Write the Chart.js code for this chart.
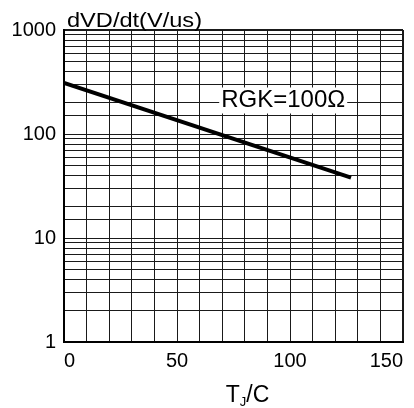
<!DOCTYPE html>
<html>
<head>
<meta charset="utf-8">
<script src="https://cdn.jsdelivr.net/npm/chart.js@4.4.0/dist/chart.umd.min.js"></script>
<style>
html, body { margin: 0; padding: 0; background: #fff; }
#wrap { width: 414px; height: 408px; }
</style>
</head>
<body>
<div id="wrap"><canvas id="dvdt"></canvas></div>
<script>
// dV/dt against junction temperature, RGK = 100 ohm
const tempC = [0, 127];
const dvdt = [310, 38];
const xTicks = [0, 50, 100, 150];
const yTicks = [1, 10, 100, 1000];

const FONT = '"Liberation Sans", Arial, Helvetica, sans-serif';

// titles and the RGK note are drawn by hand (subscript J, white box behind the note)
const labelsPlugin = {
    id: 'labels',
    afterDatasetsDraw(chart) {
        const ctx = chart.ctx;
        const area = chart.chartArea;
        const xs = chart.scales.x, ys = chart.scales.y;
        ctx.save();
        ctx.fillStyle = '#000';
        ctx.textBaseline = 'alphabetic';
        ctx.textAlign = 'left';

        // y title above the frame, a bit wide like the original artwork
        ctx.font = '20px ' + FONT;
        let t = 'dVD/dt(V/us)';
        let w = ctx.measureText(t).width;
        ctx.save();
        ctx.translate(area.left + 3, area.top - 3);
        ctx.scale(135 / w, 1);
        ctx.fillText(t, 0, 0);
        ctx.restore();

        // note with white background
        ctx.font = '24px ' + FONT;
        t = 'RGK=100Ω';
        w = ctx.measureText(t).width;
        const nx = xs.getPixelForValue(97), ny = ys.getPixelForValue(210);
        ctx.fillStyle = '#fff';
        ctx.fillRect(nx - w / 2 - 2, ny - 13, w + 4, 26);
        ctx.fillStyle = '#000';
        ctx.textAlign = 'center';
        ctx.textBaseline = 'middle';
        ctx.fillText(t, nx, ny);

        // x title: T with subscript J, then /C
        ctx.textAlign = 'left';
        ctx.textBaseline = 'alphabetic';
        const big = '23px ' + FONT, small = '13px ' + FONT;
        ctx.font = big;
        const wT = ctx.measureText('T').width, wC = ctx.measureText('/C').width;
        ctx.font = small;
        const wJ = ctx.measureText('J').width;
        const total = wT + wJ + wC;
        let px = (area.left + area.right) / 2 + 14 - total / 2;
        const base = area.bottom + 60;
        ctx.font = big;
        ctx.fillText('T', px, base);
        px += wT;
        ctx.font = small;
        ctx.fillText('J', px, base + 4);
        px += wJ;
        ctx.font = big;
        ctx.fillText('/C', px, base);
        ctx.restore();
    }
};

const tickFont = { family: FONT, size: 20 };

new Chart(document.getElementById('dvdt'), {
    type: 'line',
    data: {
        datasets: [{
            data: tempC.map((t, i) => ({ x: t, y: dvdt[i] })),
            borderColor: '#000',
            borderWidth: 4,
            pointRadius: 0,
            tension: 0,
            fill: false
        }]
    },
    options: {
        responsive: true,
        maintainAspectRatio: false,
        animation: false,
        layout: {
            padding: { top: 30, right: 11, left: 0, bottom: 0 }
        },
        plugins: {
            legend: { display: false },
            tooltip: { enabled: false }
        },
        scales: {
            x: {
                type: 'linear',
                min: 0,
                max: 150,
                afterFit(s) { s.height = 66; },
                border: { display: true, color: '#000', width: 2 },
                grid: {
                    color: '#1a1a1a',
                    lineWidth: c => (c.tick && c.tick.value === 150 ? 2 : 1),
                    drawTicks: false
                },
                ticks: {
                    stepSize: 10,
                    autoSkip: false,
                    maxRotation: 0,
                    align: 'inner',
                    padding: 7,
                    color: '#000',
                    font: tickFont,
                    callback: v => (xTicks.includes(v) ? String(v) : '')
                }
            },
            y: {
                type: 'logarithmic',
                min: 1,
                max: 1000,
                afterFit(s) { s.width = 64; },
                border: { display: true, color: '#000', width: 2 },
                grid: {
                    color: '#1a1a1a',
                    lineWidth: c => (c.tick && c.tick.value === 1000 ? 2 : 1),
                    drawTicks: false
                },
                ticks: {
                    autoSkip: false,
                    padding: 8,
                    color: '#000',
                    font: tickFont,
                    callback: v => (yTicks.includes(v) ? String(v) : '')
                }
            }
        }
    },
    plugins: [labelsPlugin]
});
</script>
</body>
</html>
